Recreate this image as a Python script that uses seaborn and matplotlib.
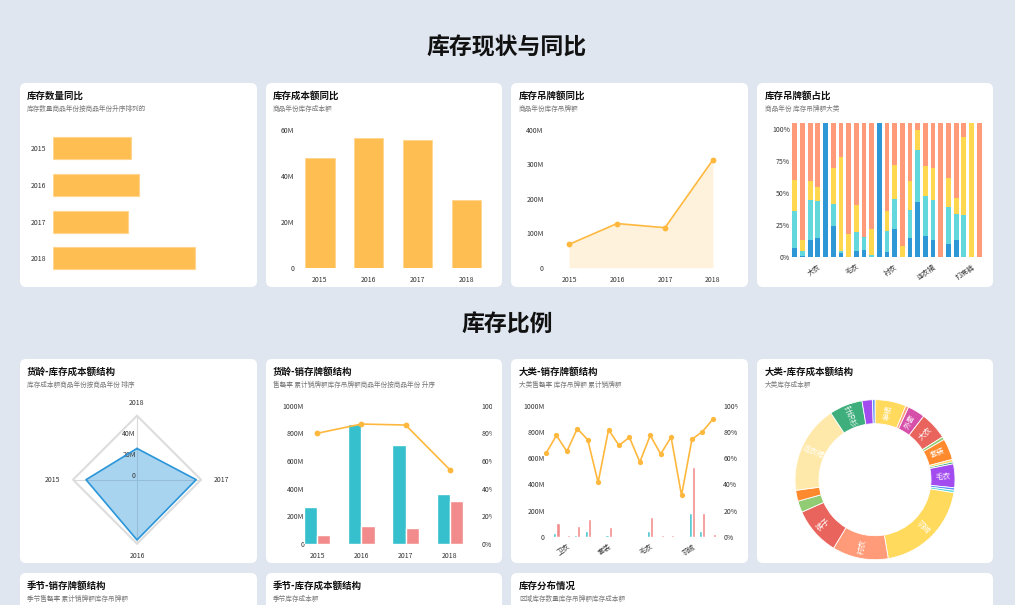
import numpy as np
import pandas as pd
import matplotlib
matplotlib.use("Agg")
import matplotlib.pyplot as plt
import seaborn as sns
from matplotlib.patches import FancyBboxPatch
from matplotlib.transforms import Bbox, TransformedBbox

# ---------------- data ----------------
years = ["2015", "2016", "2017", "2018"]
stock_qty = [808, 896, 781, 1475]            # 库存数量
stock_cost_m = [47.8, 56.5, 55.5, 29.3]      # 库存成本额 (M)
stock_tag_m = [67.5, 128, 116, 313]          # 库存吊牌额 (M)

share_cats = ["单裙", "卫衣", "外套", "大衣", "夹克", "套装", "棉衣", "牛仔裤", "毛衣", "短裤",
              "西装", "背心", "羽绒", "衬衣", "裤子", "风衣", "针织衫", "运动裤", "连衣裙", "长裙",
              "T恤", "马甲", "吊带", "打底裤", "披肩"]
share_blue = [7.6, 1.3, 13.5, 14.8, 105, 24.7, 3.6, 0.5, 5.2, 5.7, 0, 105, 4.2, 22.1, 0,
              15.4, 43.0, 16.9, 13.8, 0, 10.4, 13.5, 0, 0, 0]
share_cyan = [28.6, 3.9, 31.5, 29.2, 0, 16.7, 1.6, 0, 14.8, 10.2, 2.1, 0, 16.1, 23.7, 0,
              21.6, 40.3, 31.0, 31.0, 0, 28.9, 20.4, 33.3, 0, 0]
share_yellow = [24.2, 8.3, 14.4, 10.7, 0, 28.4, 72.7, 17.5, 20.9, 0, 19.9, 0, 15.9, 26.3, 8.9,
                22.6, 15.7, 23.5, 25.0, 0, 22.4, 12.7, 60.2, 105, 0]
share_salmon = [44.6, 91.5, 45.6, 50.3, 0, 35.2, 27.1, 87.0, 64.1, 89.1, 83.0, 0, 68.8, 32.9, 96.1,
                45.4, 6.0, 33.6, 35.2, 105, 43.3, 58.4, 11.5, 0, 105]
share_tick_idx = [3, 8, 13, 18, 23]

age_sales_m = [268, 865, 717, 360]           # 累计销牌额
age_stock_m = [63, 126, 111, 309]            # 库存吊牌额
age_sellthrough = [80.0, 86.7, 86.0, 53.6]   # 售罄率 %

cat_names = ["休闲裤", "单裙", "卫衣", "吊带", "外套", "大衣", "套装", "打底裤", "披肩", "棉衣",
             "毛衣", "牛仔裤", "皮衣", "短裤", "羽绒", "衬衣", "裤子"]
cat_stock_m = [2, 30, 7, 13, 46, 3, 15, 1, 2, 5, 43, 8, 4, 2, 185, 46, 2]
cat_sales_m = [3, 107, 16, 84, 137, 2, 76, 2, 6, 7, 152, 15, 14, 1, 535, 185, 22]
cat_sellthrough = [63.7, 77.4, 65.2, 82.5, 74.1, 41.6, 81.7, 69.8, 75.9, 57.1, 77.4, 63.2,
                   76.1, 31.7, 74.4, 80.2, 89.6]
cat_tick_idx = [2, 6, 10, 14]

donut_names = ["单裙", "卫衣", "外套", "大衣", "夹克", "套装", "打底裤", "棉衣", "毛衣", "牛仔裤",
               "短裤", "羽绒", "衬衣", "裤子", "西装", "运动裤", "连衣裙", "针织衫", "长裙", "风衣"]
donut_values = [6.3, 0.6, 3.5, 5.6, 0.6, 4.3, 0.5, 0.4, 4.8, 0.5,
                0.5, 19.7, 11.3, 9.7, 2.3, 2.2, 17.8, 6.7, 2.1, 0.5]
donut_colors = ["#FFDA5C", "#FF9B78", "#D64FA9", "#E9645C", "#91CC75", "#FF8A2D", "#FFDA5C",
                "#3DAE7C", "#A24CF0", "#5B8FF9", "#62D8DD", "#FFDA5C", "#FF9B78", "#E9645C",
                "#91CC75", "#FF8A2D", "#FFE9AA", "#3DAE7C", "#A24CF0", "#5B8FF9"]

# ---------------- style ----------------
sns.set_style("white")
plt.rcParams["font.family"] = ["Noto Sans CJK SC", "DejaVu Sans"]
plt.rcParams["axes.unicode_minus"] = False

ORANGE = "#FFBE52"
LINE = "#FFB83E"
TEAL = "#36BFCC"
SALMON = "#F28C8C"
TICK = "#333333"

W, H = 1015, 605
fig = plt.figure(figsize=(W / 100, H / 100), dpi=100)
fig.patch.set_facecolor("#DFE6F0")


def card(x0, y0, x1, y1):
    p = FancyBboxPatch((x0 / 100, (H - y1) / 100), (x1 - x0) / 100, (y1 - y0) / 100,
                       boxstyle="round,pad=0,rounding_size=0.06",
                       transform=fig.dpi_scale_trans, facecolor="white",
                       edgecolor="none", zorder=-5)
    fig.add_artist(p)


def ftext(x, y, s, **kw):
    fig.text(x / W, 1 - y / H, s, **kw)


def card_titles(x, y, title, sub):
    ftext(x, y, title, fontsize=6.8, fontweight="bold", color="#111111", va="center", ha="left")
    ftext(x, y + 13.5, sub, fontsize=4.8, color="#777777", va="center", ha="left")


def add_ax(x0, y0, x1, y1, **kw):
    return fig.add_axes([x0 / W, (H - y1) / H, (x1 - x0) / W, (y1 - y0) / H], **kw)


def style(ax):
    for s in ax.spines.values():
        s.set_visible(False)
    ax.tick_params(length=0, labelsize=5, labelcolor=TICK)
    ax.set_xlabel("")
    ax.set_ylabel("")
    ax.set_facecolor("none")


def clip_labels(labels, x0, x1):
    bb = TransformedBbox(Bbox.from_extents(x0 / 100, 0, x1 / 100, H / 100), fig.dpi_scale_trans)
    for t in labels:
        t.set_clip_on(True)
        t.set_clip_box(bb)


# ---------------- cards & headings ----------------
row1 = (83, 287)
row2 = (359, 563)
cols = [(20, 257), (266, 502), (511, 748), (757, 993)]
for (a, b) in cols:
    card(a, row1[0], b, row1[1])
    card(a, row2[0], b, row2[1])
card(20, 573, 257, 700)
card(266, 573, 502, 700)
card(511, 573, 993, 700)

ftext(507, 48, "库存现状与同比", fontsize=16.5, fontweight="bold", color="#111111", ha="center", va="center")
ftext(507, 325, "库存比例", fontsize=16.5, fontweight="bold", color="#111111", ha="center", va="center")

card_titles(27, 95.5, "库存数量同比", "库存数量商品年份按商品年份升序排列的")
card_titles(273, 95.5, "库存成本额同比", "商品年份库存成本额")
card_titles(519, 95.5, "库存吊牌额同比", "商品年份库存吊牌额")
card_titles(765, 95.5, "库存吊牌额占比", "商品年份 库存吊牌额大类")
card_titles(27, 371.5, "货龄-库存成本额结构", "库存成本额商品年份按商品年份 排序")
card_titles(273, 371.5, "货龄-销存牌额结构", "售罄率 累计销牌额库存吊牌额商品年份按商品年份 升序")
card_titles(519, 371.5, "大类-销存牌额结构", "大类售罄率 库存吊牌额 累计销牌额")
card_titles(765, 371.5, "大类-库存成本额结构", "大类库存成本额")
card_titles(27, 585.8, "季节-销存牌额结构", "季节售罄率 累计销牌额库存吊牌额")
card_titles(273, 585.8, "季节-库存成本额结构", "季节库存成本额")
card_titles(519, 585.8, "库存分布情况", "区域库存数量库存吊牌额库存成本额")

# ---------------- panel 1: horizontal bars ----------------
ax1 = add_ax(53, 130, 245, 276.5)
df1 = pd.DataFrame({"year": years, "qty": stock_qty})
sns.barplot(data=df1, y="year", x="qty", orient="h", color=ORANGE, saturation=1,
            width=0.6, edgecolor="#FFD690", linewidth=0.8, ax=ax1)
style(ax1)
ax1.set_xlim(0, 2000)
ax1.set_ylim(3.5, -0.5)
ax1.set_xticks([])
ax1.tick_params(axis="y", pad=5)

# ---------------- panel 2: vertical bars ----------------
ax2 = add_ax(295.5, 129.7, 490.5, 267.7)
df2 = pd.DataFrame({"year": years, "cost": stock_cost_m})
sns.barplot(data=df2, x="year", y="cost", color=ORANGE, saturation=1, width=0.6,
            edgecolor="#FFD690", linewidth=0.6, ax=ax2)
style(ax2)
ax2.set_xlim(-0.5, 3.5)
ax2.set_ylim(0, 60)
ax2.set_yticks([0, 20, 40, 60])
ax2.set_yticklabels(["0", "20M", "40M", "60M"])
ax2.tick_params(axis="y", pad=1)
ax2.tick_params(axis="x", pad=6)

# ---------------- panel 3: area line ----------------
ax3 = add_ax(545, 129.7, 737, 267.7)
xpos = np.arange(len(years))
ax3.fill_between(xpos, stock_tag_m, 0, color="#FEF2DC", linewidth=0, zorder=1)
sns.lineplot(x=xpos, y=stock_tag_m, color=LINE, marker="o", markersize=4.2,
             markeredgewidth=0, linewidth=1.2, ax=ax3, zorder=3)
style(ax3)
ax3.set_xlim(-0.5, 3.5)
ax3.set_ylim(0, 400)
ax3.set_xticks(xpos)
ax3.set_xticklabels(years)
ax3.set_yticks([0, 100, 200, 300, 400])
ax3.set_yticklabels(["0", "100M", "200M", "300M", "400M"])
ax3.tick_params(axis="y", pad=1)
ax3.tick_params(axis="x", pad=6)

# ---------------- panel 4: stacked share bars ----------------
ax4 = add_ax(791, 122.6, 983, 257.3)
xs4 = np.arange(len(share_cats))
bottom = np.zeros(len(share_cats))
for vals, col in [(share_blue, "#2E97D5"), (share_cyan, "#62D8DD"),
                  (share_yellow, "#FFD850"), (share_salmon, "#FF9B78")]:
    v = np.array(vals, dtype=float)
    ax4.bar(xs4, v, bottom=bottom, width=0.62, color=col, linewidth=0)
    bottom += v
style(ax4)
ax4.set_xlim(-0.5, len(share_cats) - 0.5)
ax4.set_ylim(0, 105)
ax4.set_yticks([0, 25, 50, 75, 100])
ax4.set_yticklabels(["0%", "25%", "50%", "75%", "100%"])
ax4.set_xticks(share_tick_idx)
ax4.set_xticklabels([share_cats[i] for i in share_tick_idx], rotation=35, ha="right",
                    rotation_mode="anchor")
ax4.tick_params(axis="y", pad=0.5)
ax4.tick_params(axis="x", pad=4)

# ---------------- panel 5: radar ----------------
ax5 = add_ax(47, 389.7, 227, 559.7)
radar_years = ["2018", "2015", "2016", "2017"]
rv = np.array([stock_cost_m[years.index(y)] for y in radar_years])
theta = np.deg2rad(90 + 90 * np.arange(len(radar_years)))
rmax = 60
for th in theta:
    ax5.plot([0, rmax * np.cos(th)], [0, rmax * np.sin(th)], color="#D9D9D9", lw=0.8, zorder=1)
ox = np.append(rmax * np.cos(theta), rmax * np.cos(theta[0]))
oy = np.append(rmax * np.sin(theta), rmax * np.sin(theta[0]))
ax5.plot(ox, oy, color="#DDDDDD", lw=1.5, zorder=1)
px = np.append(rv * np.cos(theta), rv[0] * np.cos(theta[0]))
py = np.append(rv * np.sin(theta), rv[0] * np.sin(theta[0]))
ax5.fill(px, py, color="#2A95D8", alpha=0.4, lw=0, zorder=2)
for r, lab in zip([0, 20, 40], ["0", "20M", "40M"]):
    ax5.text(-1.2, r + 3, lab, ha="right", va="center", fontsize=5, color=TICK, zorder=2)
ax5.plot(px, py, color="#2A95D8", lw=1.2, zorder=3)
for th, yl in zip(theta, radar_years):
    c, s = np.cos(th), np.sin(th)
    ha = "center" if abs(c) < 0.5 else ("left" if c > 0 else "right")
    ax5.text(72 * c, 72 * s, yl, ha=ha, va="center", fontsize=5, color=TICK,
             clip_on=(s < -0.5))
ax5.set_xlim(-84.375, 84.375)
ax5.set_ylim(-75, 84.375)
ax5.axis("off")

# ---------------- panel 6: age bars + sell-through ----------------
ax6 = add_ax(295, 405.7, 472, 543.7)
df6 = pd.DataFrame({"year": years * 2,
                    "metric": ["累计销牌额"] * 4 + ["库存吊牌额"] * 4,
                    "value": age_sales_m + age_stock_m})
sns.barplot(data=df6, x="year", y="value", hue="metric", palette=[TEAL, SALMON],
            saturation=1, width=0.6, legend=False, ax=ax6)
style(ax6)
ax6.set_ylim(0, 1000)
ax6.set_yticks([0, 200, 400, 600, 800, 1000])
ax6.set_yticklabels(["0", "200M", "400M", "600M", "800M", "1000M"])
ax6.tick_params(axis="y", pad=-6.5)
ax6.tick_params(axis="x", pad=6)
ax6b = ax6.twinx()
sns.lineplot(x=np.arange(len(years)), y=age_sellthrough, color=LINE, marker="o",
             markersize=4.2, markeredgewidth=0, linewidth=1.2, ax=ax6b)
style(ax6b)
ax6b.set_ylim(0, 100)
ax6b.set_yticks([0, 20, 40, 60, 80, 100])
ax6b.set_yticklabels(["0%", "20%", "40%", "60%", "80%", "100%"])
ax6b.tick_params(axis="y", pad=7)
ax6.set_xlim(-0.5, 3.5)
clip_labels(ax6b.get_yticklabels(), 470, 491.7)

# ---------------- panel 7: category bars + sell-through ----------------
ax7 = add_ax(540.8, 405.7, 718, 537)
df7 = pd.DataFrame({"cat": cat_names * 2,
                    "metric": ["库存吊牌额"] * len(cat_names) + ["累计销牌额"] * len(cat_names),
                    "value": cat_stock_m + cat_sales_m})
sns.barplot(data=df7, x="cat", y="value", hue="metric", palette=[TEAL, SALMON],
            saturation=1, width=0.6, legend=False, ax=ax7)
style(ax7)
ax7.set_ylim(0, 1000)
ax7.set_yticks([0, 200, 400, 600, 800, 1000])
ax7.set_yticklabels(["0", "200M", "400M", "600M", "800M", "1000M"])
ax7.tick_params(axis="y", pad=-3)
ax7.set_xticks(cat_tick_idx)
ax7.set_xticklabels([cat_names[i] for i in cat_tick_idx], rotation=35, ha="right",
                    rotation_mode="anchor")
ax7.tick_params(axis="x", pad=4)
ax7b = ax7.twinx()
sns.lineplot(x=np.arange(len(cat_names)), y=cat_sellthrough, color=LINE, marker="o",
             markersize=3.8, markeredgewidth=0, linewidth=1.2, ax=ax7b)
style(ax7b)
ax7b.set_ylim(0, 100)
ax7b.set_yticks([0, 20, 40, 60, 80, 100])
ax7b.set_yticklabels(["0%", "20%", "40%", "60%", "80%", "100%"])
ax7b.tick_params(axis="y", pad=3.8)
ax7.set_xlim(-0.5, len(cat_names) - 0.5)
clip_labels(ax7b.get_yticklabels(), 716, 737.7)

# ---------------- panel 8: donut ----------------
ax8 = add_ax(875 - 84, 479.7 - 84, 875 + 84, 479.7 + 84)
shown = [n if v >= 3 else "" for n, v in zip(donut_names, donut_values)]
wedges, texts = ax8.pie(donut_values, colors=donut_colors, startangle=90, counterclock=False,
                        radius=1, labels=shown, labeldistance=0.85, rotatelabels=True,
                        wedgeprops=dict(width=0.3, edgecolor="white", linewidth=0.6),
                        textprops=dict(color="white", fontsize=5.5))
for t in texts:
    t.set_horizontalalignment("center")
    t.set_verticalalignment("center")
ax8.set_xlim(-1.05, 1.05)
ax8.set_ylim(-1.05, 1.05)
ax8.set_aspect("equal")
ax8.axis("off")

fig.savefig("out.png", dpi=100, facecolor=fig.get_facecolor())
